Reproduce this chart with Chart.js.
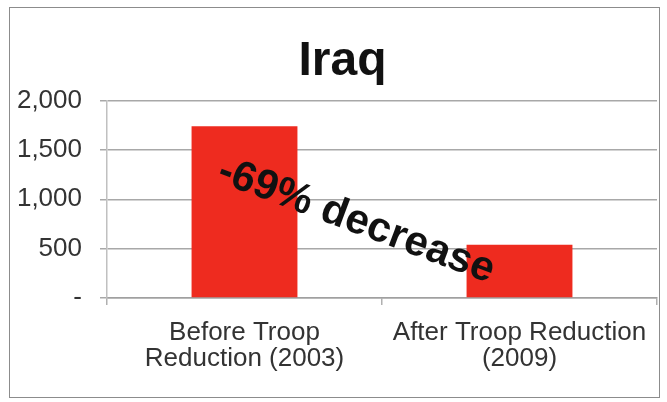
<!DOCTYPE html>
<html>
<head>
<meta charset="utf-8">
<script src="https://cdn.jsdelivr.net/npm/chart.js@4"></script>
<style>
  html, body { margin: 0; padding: 0; background: #fff; }
  body { width: 667px; height: 402px; position: relative; overflow: hidden; }
  #frame { position: absolute; left: 9px; top: 7px; width: 651px; height: 391px; border: 1.5px solid #8c8c8c; box-sizing: border-box; }
  #wrap { position: absolute; left: 10px; top: 8px; width: 665px; height: 389px; }
</style>
</head>
<body>
<div id="frame"></div>
<div id="wrap"><canvas id="c"></canvas></div>
<script>
const chartTitle = 'Iraq';
const categories = [['Before Troop', 'Reduction (2003)'], ['After Troop Reduction', '(2009)']];
const troops = [1740, 540];
const yTicks = [0, 500, 1000, 1500, 2000];
const annotationText = '-69% decrease';

const annotationPlugin = {
  id: 'annot',
  afterDatasetsDraw(chart) {
    const { ctx, chartArea } = chart;
    const w = chartArea.right - chartArea.left;
    const h = chartArea.bottom - chartArea.top;
    const cx = chartArea.left + w * 0.453;
    const cy = chartArea.top + h * 0.61;
    ctx.save();
    ctx.translate(cx, cy);
    ctx.rotate(20.5 * Math.PI / 180);
    ctx.font = 'bold 42px "Liberation Sans", Arial, sans-serif';
    ctx.fillStyle = '#111';
    ctx.textAlign = 'center';
    ctx.textBaseline = 'middle';
    ctx.fillText(annotationText, 0, 0);
    ctx.restore();
  }
};

new Chart(document.getElementById('c'), {
  type: 'bar',
  data: {
    labels: categories,
    datasets: [{
      data: troops,
      backgroundColor: '#ee2b1f',
      borderWidth: 0,
      categoryPercentage: 1,
      barPercentage: 0.385
    }]
  },
  options: {
    responsive: true,
    maintainAspectRatio: false,
    animation: false,
    layout: { padding: { left: 0, right: 0, top: 0, bottom: 0 } },
    plugins: {
      legend: { display: false },
      tooltip: { enabled: false },
      title: {
        display: true,
        text: chartTitle,
        color: '#111',
        font: { family: '"Liberation Sans", Arial, sans-serif', size: 48, weight: 'bold', lineHeight: 1.2 },
        padding: { top: 25, bottom: 10 }
      }
    },
    scales: {
      x: {
        grid: { display: true, drawOnChartArea: false, offset: true, tickLength: 7, color: '#b0b0b0', lineWidth: 1.5 },
        border: { display: true, color: '#a0a0a0', width: 1.5 },
        ticks: {
          color: '#333',
          padding: 15,
          maxRotation: 0,
          autoSkip: false,
          font: { family: '"Liberation Sans", Arial, sans-serif', size: 26, lineHeight: 1.0 }
        },
        afterFit(s) { s.height = 99; }
      },
      y: {
        min: 0,
        max: 2000,
        afterBuildTicks(s) { s.ticks = yTicks.map(v => ({ value: v })); },
        grid: { color: '#a8a8a8', lineWidth: 1.5, tickLength: 7 },
        border: { display: true, color: '#c0c0c0', width: 1.5 },
        ticks: {
          color: '#333',
          padding: 18,
          font: { family: '"Liberation Sans", Arial, sans-serif', size: 26 },
          callback(v) { return v === 0 ? '-' : v.toLocaleString('en-US'); }
        },
        afterFit(s) { s.width = 97; }
      },
      ySpacer: {
        position: 'right',
        min: 0,
        max: 1,
        grid: { display: false, drawTicks: false },
        border: { display: false },
        ticks: { display: false },
        afterFit(s) { s.width = 18; }
      }
    }
  },
  plugins: [annotationPlugin]
});
</script>
</body>
</html>
